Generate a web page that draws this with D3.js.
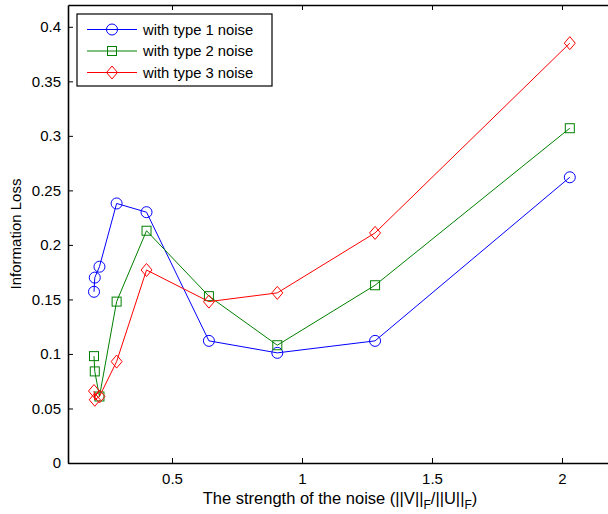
<head>
  <script src="https://d3js.org/d3.v7.min.js"></script>
</head>
<style>
body{ margin:0; background:#fff; }
svg text{ font-family:"Liberation Sans", Arial, Helvetica, sans-serif; fill:#000; }
</style>
<body>
  <svg id="svg_chart"></svg>
</body>
<script>
  var w = 608;
  var h = 514;
  var margin = {top: 5, left: 68};
  var plot_w = 546;   // right border sits just outside the picture
  var plot_h = 458;

// data
  var noiseStrength = [0.200, 0.203, 0.221, 0.287, 0.402, 0.642, 0.905, 1.281, 2.030];
  var lossType1 = [0.157, 0.170, 0.180, 0.238, 0.230, 0.112, 0.101, 0.112, 0.262];
  var lossType2 = [0.098, 0.084, 0.061, 0.148, 0.213, 0.153, 0.108, 0.163, 0.307];
  var lossType3 = [0.066, 0.058, 0.061, 0.093, 0.177, 0.148, 0.156, 0.211, 0.385];
  var seriesNames = ["with type 1 noise", "with type 2 noise", "with type 3 noise"];
  var seriesColors = ["#0000ff", "#008000", "#ff0000"];
  var seriesMarkers = ["circle", "square", "diamond"];
  var xTicks = [0.5, 1, 1.5, 2];
  var xTickLabels = ["0.5", "1", "1.5", "2"];
  var yTicks = [0, 0.05, 0.1, 0.15, 0.2, 0.25, 0.3, 0.35, 0.4];
  var yTickLabels = ["0", "0.05", "0.1", "0.15", "0.2", "0.25", "0.3", "0.35", "0.4"];

  var allSeries = [lossType1, lossType2, lossType3].map(function(vals, i){
    return {
      name: seriesNames[i],
      color: seriesColors[i],
      marker: seriesMarkers[i],
      points: vals.map(function(v, j){ return {x: noiseStrength[j], y: v}; })
    };
  });

  var xScale = d3.scaleLinear().domain([0.1, 2.2]).range([0, plot_w]);
  var yScale = d3.scaleLinear().domain([0, 0.42]).range([plot_h, 0]);

  var svg = d3.select("svg#svg_chart")
      .attr("width", w)
      .attr("height", h);

  var g = svg.append("g")
      .attr("transform", "translate(" + margin.left + "," + margin.top + ")");

  function drawMarker(sel, type, color){
    if(type == "circle"){
      sel.append("circle").attr("r", 5.5);
    } else if(type == "square"){
      sel.append("rect").attr("x", -4.5).attr("y", -4.5).attr("width", 9).attr("height", 9);
    } else {
      sel.append("path").attr("d", "M0,-6.5L5.5,0L0,6.5L-5.5,0Z");
    }
    sel.selectAll("*")
      .attr("fill", "none")
      .attr("stroke", color)
      .attr("stroke-width", 1);
  }

// axes, matlab style with inner ticks
  var fmtX = function(d, i){ return xTickLabels[i]; };
  var fmtY = function(d, i){ return yTickLabels[i]; };

  var xAxis = g.append("g")
      .attr("transform", "translate(0," + plot_h + ")")
      .call(d3.axisBottom(xScale).tickValues(xTicks).tickFormat(fmtX).tickSizeInner(-5).tickSizeOuter(0).tickPadding(10));
  var xTop = g.append("g")
      .call(d3.axisTop(xScale).tickValues(xTicks).tickFormat("").tickSizeInner(-5).tickSizeOuter(0));
  var yAxis = g.append("g")
      .call(d3.axisLeft(yScale).tickValues(yTicks).tickFormat(fmtY).tickSizeInner(-5).tickSizeOuter(0).tickPadding(7));

  [xAxis, xTop, yAxis].forEach(function(a){
    a.select(".domain").attr("stroke", "#000").attr("stroke-width", 1.6);
    a.selectAll(".tick line").attr("stroke", "#000").attr("stroke-width", 1);
    a.selectAll(".tick text").style("font-size", "15px").attr("fill", "#000");
  });
  xAxis.selectAll(".tick text").attr("dy", "0.71em");

// series lines and markers
  var line = d3.line()
      .x(function(d){ return xScale(d.x); })
      .y(function(d){ return yScale(d.y); });

  allSeries.forEach(function(s){
    g.append("path")
      .datum(s.points)
      .attr("d", line)
      .attr("fill", "none")
      .attr("stroke", s.color)
      .attr("stroke-width", 1);

    g.selectAll(null)
      .data(s.points)
      .enter().append("g")
      .attr("transform", function(d){ return "translate(" + xScale(d.x) + "," + yScale(d.y) + ")"; })
      .each(function(){ drawMarker(d3.select(this), s.marker, s.color); });
  });

// axis labels
  svg.append("text")
    .attr("transform", "translate(21," + (margin.top + plot_h / 2) + ") rotate(-90)")
    .attr("text-anchor", "middle")
    .style("font-size", "15px")
    .text("Information Loss");

  var xlab = svg.append("text")
    .attr("x", margin.left + plot_w / 2 - 1)
    .attr("y", 504)
    .attr("text-anchor", "middle")
    .style("font-size", "16.5px");
  xlab.append("tspan").text("The strength of the noise (||V||");
  xlab.append("tspan").attr("dy", 5).style("font-size", "12px").text("F");
  xlab.append("tspan").attr("dy", -5).text("/||U||");
  xlab.append("tspan").attr("dy", 5).style("font-size", "12px").text("F");
  xlab.append("tspan").attr("dy", -5).text(")");

// legend
  var legend = svg.append("g").attr("transform", "translate(77,14)");
  legend.append("rect")
    .attr("width", 195)
    .attr("height", 72)
    .attr("fill", "#fff")
    .attr("stroke", "#000")
    .attr("stroke-width", 1.2);

  allSeries.forEach(function(s, i){
    var row = legend.append("g").attr("transform", "translate(0," + (15.5 + i * 21.5) + ")");
    row.append("line")
      .attr("x1", 10).attr("x2", 60)
      .attr("stroke", s.color).attr("stroke-width", 1);
    var m = row.append("g").attr("transform", "translate(35,0)");
    drawMarker(m, s.marker, s.color);
    row.append("text")
      .attr("x", 66)
      .attr("dy", "0.35em")
      .style("font-size", "14.8px")
      .text(s.name);
  });
</script>
